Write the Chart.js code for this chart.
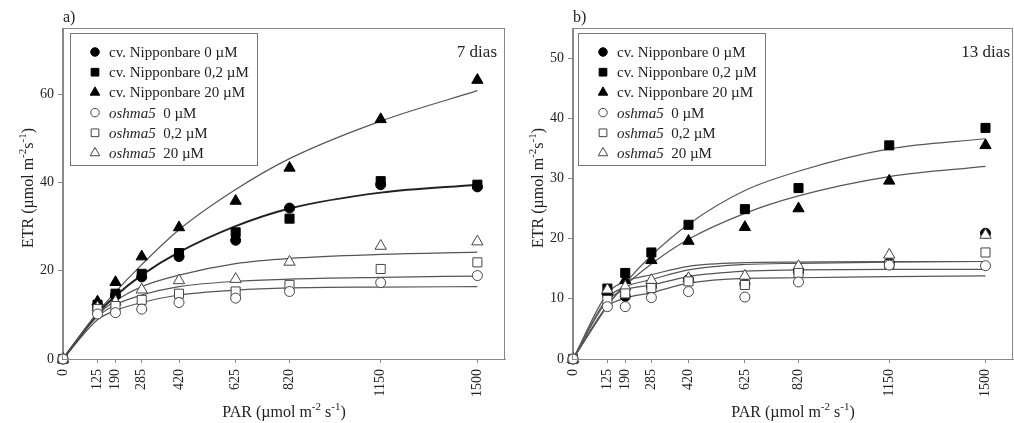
<!DOCTYPE html>
<html>
<head>
<meta charset="utf-8">
<script src="https://cdn.jsdelivr.net/npm/chart.js@4.4.1/dist/chart.umd.min.js"></script>
<style>
  html, body { margin: 0; padding: 0; background: #fff; }
  #wrap { position: relative; width: 1014px; height: 423px; }
  .panel { position: absolute; top: 0; height: 423px; }
</style>
</head>
<body>
<div id="wrap">
  <div class="panel" style="left:0;width:507px"><canvas id="chartA" width="507" height="423"></canvas></div>
  <div class="panel" style="left:510px;width:504px"><canvas id="chartB" width="504" height="423"></canvas></div>
</div>
<script>
// PAR levels (x) shared by both panels
const par = [0, 125, 190, 285, 420, 625, 820, 1150, 1500];
const parTicks = [0, 125, 190, 285, 420, 625, 820, 1150, 1500];

// panel a) 7 dias - measured ETR
const etrA_nip0 = [0, 12.0, 14.4, 18.6, 23.2, 26.9, 34.2, 39.5, 39.0];
const etrA_nip02 = [0, 12.3, 14.8, 19.3, 24.0, 28.7, 31.8, 40.3, 39.5];
const etrA_nip20 = [0, 13.0, 17.4, 23.2, 29.8, 35.8, 43.3, 54.3, 63.2];
const etrA_osh0 = [0, 10.2, 10.5, 11.3, 12.8, 13.8, 15.3, 17.3, 18.9];
const etrA_osh02 = [0, 11.3, 12.0, 13.4, 14.8, 15.3, 16.8, 20.4, 21.9];
const etrA_osh20 = [0, 11.7, 13.0, 15.7, 17.8, 18.1, 22.0, 25.6, 26.6];
// panel a) fitted curves, read at the PAR levels
const fitA_nip20 = [0, 10.5, 15.2, 21.4, 29.3, 38.4, 45.4, 53.9, 60.8];
const fitA_nip0 = [0, 10.3, 14.3, 19.0, 24.2, 30.1, 34.1, 37.7, 39.5];
const fitA_osh20 = [0, 10.0, 13.2, 16.4, 19.0, 21.6, 22.8, 23.7, 24.2];
const fitA_osh02 = [0, 9.6, 12.3, 14.5, 16.4, 17.6, 18.1, 18.5, 18.8];
const fitA_osh0 = [0, 8.9, 11.0, 12.8, 14.5, 15.6, 16.1, 16.3, 16.4];
const yTicksA = [0, 20, 40, 60];

// panel b) 13 dias - measured ETR
const etrB_nip0 = [0, 10.7, 10.4, 12.0, 13.2, 12.5, 14.5, 16.0, 20.9];
const etrB_nip02 = [0, 11.7, 14.3, 17.7, 22.3, 24.9, 28.4, 35.5, 38.4];
const etrB_nip20 = [0, 11.3, 13.1, 16.4, 19.6, 21.9, 25.0, 29.6, 35.5];
const etrB_osh0 = [0, 8.7, 8.7, 10.2, 11.2, 10.3, 12.8, 15.6, 15.5];
const etrB_osh02 = [0, 9.8, 10.9, 11.8, 12.9, 12.3, 14.3, 15.7, 17.7];
const etrB_osh20 = [0, 11.5, 12.0, 13.1, 13.4, 13.8, 15.4, 17.3, 20.6];
// panel b) fitted curves
const fitB_nip02 = [0, 8.8, 12.6, 17.2, 22.4, 28.0, 31.2, 34.9, 36.6];
const fitB_nip20 = [0, 8.9, 12.2, 15.8, 19.9, 24.2, 27.1, 30.3, 32.0];
const fitB_nip0 = [0, 10.9, 12.9, 14.0, 15.4, 16.0, 16.1, 16.2, 16.2];
const fitB_osh20 = [0, 10.1, 12.0, 13.2, 14.8, 15.7, 15.9, 16.1, 16.2];
const fitB_osh02 = [0, 9.7, 11.5, 12.3, 13.7, 14.6, 14.8, 14.9, 14.9];
const fitB_osh0 = [0, 8.7, 10.1, 11.0, 12.6, 13.4, 13.5, 13.7, 13.8];
const yTicksB = [0, 10, 20, 30, 40, 50];

const legendLabels = [
  ["", "cv. Nipponbare 0 µM"],
  ["", "cv. Nipponbare 0,2 µM"],
  ["", "cv. Nipponbare 20 µM"],
  ["oshma5", "  0 µM"],
  ["oshma5", "  0,2 µM"],
  ["oshma5", "  20 µM"],
];

const SERIF = '"Liberation Serif", "Times New Roman", serif';

const markerStyles = [
  { pointStyle: "circle", radius: 5, fill: "#000", stroke: "#000" },
  { pointStyle: "rect", radius: 6.4, fill: "#000", stroke: "#000" },
  { pointStyle: "triangle", radius: 6.5, fill: "#000", stroke: "#000" },
  { pointStyle: "circle", radius: 5, fill: "#fff", stroke: "#444" },
  { pointStyle: "rect", radius: 6.4, fill: "#fff", stroke: "#444" },
  { pointStyle: "triangle", radius: 6.5, fill: "#fff", stroke: "#444" },
];

function pts(ys) {
  return par.map((x, i) => ({ x: x, y: ys[i] }));
}

function markerSet(ys, k) {
  const m = markerStyles[k];
  return {
    data: pts(ys),
    showLine: false,
    pointStyle: m.pointStyle,
    pointRadius: m.radius,
    pointBackgroundColor: m.fill,
    pointBorderColor: m.stroke,
    pointBorderWidth: 1,
    clip: false,
  };
}

function curveSet(ys, width, colour) {
  return {
    data: pts(ys),
    showLine: true,
    pointRadius: 0,
    borderColor: colour,
    borderWidth: width,
    cubicInterpolationMode: "monotone",
    clip: false,
  };
}

function drawSup(ctx, parts, x, y, align) {
  const big = "16px " + SERIF;
  const small = "11px " + SERIF;
  let total = 0;
  parts.forEach((p) => {
    ctx.font = p[1] ? small : big;
    total += ctx.measureText(p[0]).width;
  });
  let cx = align === "center" ? x - total / 2 : x;
  ctx.textAlign = "left";
  ctx.textBaseline = "alphabetic";
  parts.forEach((p) => {
    ctx.font = p[1] ? small : big;
    ctx.fillText(p[0], cx, p[1] ? y - 7 : y);
    cx += ctx.measureText(p[0]).width;
  });
}

function drawMarker(ctx, k, x, y) {
  const m = markerStyles[k];
  ctx.save();
  ctx.fillStyle = m.fill;
  ctx.strokeStyle = m.stroke;
  ctx.lineWidth = 1;
  Chart.helpers.drawPoint(ctx, { pointStyle: m.pointStyle, rotation: 0, radius: m.radius * 0.85, borderWidth: 1 }, x, y);
  ctx.restore();
}

const axisTitleParts = [["PAR (µmol m", false], ["-2", true], [" s", false], ["-1", true], [")", false]];
const yTitleParts = [["ETR (µmol m", false], ["-2", true], ["s", false], ["-1", true], [")", false]];

const decoPlugin = {
  id: "deco",
  afterDraw(chart, args, opts) {
    const ctx = chart.ctx;
    const a = chart.chartArea;
    ctx.save();
    // frame
    ctx.strokeStyle = "#888";
    ctx.lineWidth = 1;
    ctx.strokeRect(Math.round(a.left) - 0.5, Math.round(a.top) + 0.5, Math.round(a.right - a.left), Math.round(a.bottom - a.top));
    ctx.fillStyle = "#222";
    // panel letter
    ctx.font = "16px " + SERIF;
    ctx.textAlign = "left";
    ctx.fillText(opts.letter, a.left, 22);
    // day label
    ctx.font = "17px " + SERIF;
    ctx.textAlign = "right";
    ctx.fillText(opts.days, opts.daysX, 57);
    // axis titles
    drawSup(ctx, axisTitleParts, (a.left + a.right) / 2, 417, "center");
    ctx.save();
    ctx.translate(33, 188);
    ctx.rotate(-Math.PI / 2);
    drawSup(ctx, yTitleParts, 0, 0, "center");
    ctx.restore();
    // legend box
    const lx = opts.legendX;
    ctx.strokeStyle = "#777";
    ctx.strokeRect(lx + 0.5, 33.5, 187, 132);
    legendLabels.forEach((lab, i) => {
      const y = 52 + i * 20.2;
      drawMarker(ctx, i, lx + 25, y);
      ctx.fillStyle = "#222";
      ctx.textAlign = "left";
      ctx.textBaseline = "middle";
      let tx = lx + 39;
      if (lab[0]) {
        ctx.font = "italic 15px " + SERIF;
        ctx.fillText(lab[0], tx, y + 1);
        tx += ctx.measureText(lab[0]).width;
      }
      ctx.font = "15px " + SERIF;
      ctx.fillText(lab[1], tx, y + 1);
    });
    ctx.restore();
  },
};

function makeChart(id, sets, curves, yMax, yTicks, deco, padRight) {
  const datasets = [
    markerSet(sets[3], 3),
    markerSet(sets[4], 4),
    markerSet(sets[5], 5),
    markerSet(sets[0], 0),
    markerSet(sets[1], 1),
    markerSet(sets[2], 2),
  ].concat(curves);

  return new Chart(document.getElementById(id), {
    type: "scatter",
    data: { datasets: datasets },
    plugins: [decoPlugin],
    options: {
      responsive: false,
      animation: false,
      devicePixelRatio: 1,
      layout: { autoPadding: false, padding: { top: 28, right: padRight, left: 0, bottom: 0 } },
      plugins: {
        legend: { display: false },
        tooltip: { enabled: false },
        deco: deco,
      },
      scales: {
        x: {
          type: "linear",
          min: 0,
          max: 1600,
          afterBuildTicks: (s) => {
            s.ticks = parTicks.map((v) => ({ value: v }));
          },
          afterFit: (s) => {
            s.height = 64;
          },
          ticks: {
            autoSkip: false,
            minRotation: 90,
            maxRotation: 90,
            padding: 6,
            color: "#222",
            font: { family: SERIF, size: 14 },
            callback: (v) => String(v),
          },
          grid: { drawOnChartArea: false, tickLength: 4, color: "#888" },
          border: { color: "#888" },
        },
        y: {
          type: "linear",
          min: 0,
          max: yMax,
          afterBuildTicks: (s) => {
            s.ticks = yTicks.map((v) => ({ value: v }));
          },
          afterFit: (s) => {
            s.width = 63;
          },
          ticks: {
            padding: 4,
            color: "#222",
            font: { family: SERIF, size: 14 },
            callback: (v) => String(v),
          },
          grid: { drawOnChartArea: false, tickLength: 5, color: "#888" },
          border: { color: "#888" },
        },
      },
    },
  });
}

makeChart(
  "chartA",
  [etrA_nip0, etrA_nip02, etrA_nip20, etrA_osh0, etrA_osh02, etrA_osh20],
  [
    curveSet(fitA_nip20, 1.2, "#555"),
    curveSet(fitA_nip0, 2, "#222"),
    curveSet(fitA_osh20, 1.2, "#555"),
    curveSet(fitA_osh02, 1.2, "#555"),
    curveSet(fitA_osh0, 1.2, "#555"),
  ],
  75,
  yTicksA,
  { letter: "a)", days: "7 dias", daysX: 497, legendX: 70 },
  2
);

makeChart(
  "chartB",
  [etrB_nip0, etrB_nip02, etrB_nip20, etrB_osh0, etrB_osh02, etrB_osh20],
  [
    curveSet(fitB_nip02, 1.2, "#555"),
    curveSet(fitB_nip20, 1.2, "#555"),
    curveSet(fitB_nip0, 1.2, "#555"),
    curveSet(fitB_osh20, 1.2, "#555"),
    curveSet(fitB_osh02, 1.2, "#555"),
    curveSet(fitB_osh0, 1.2, "#555"),
  ],
  55,
  yTicksB,
  { letter: "b)", days: "13 dias", daysX: 500, legendX: 68 },
  1
);
</script>
</body>
</html>
